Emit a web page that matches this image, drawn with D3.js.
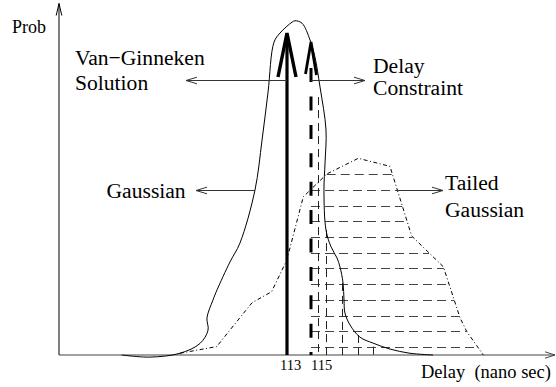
<!DOCTYPE html>
<html>
<head>
<meta charset="utf-8">
<script src="https://cdn.jsdelivr.net/npm/d3@7"></script>
<style>
  body { margin: 0; background: #fff; }
  svg { display: block; }
  text { font-family: "Liberation Serif", "Times New Roman", serif; fill: #000; }
</style>
</head>
<body>
<svg id="chart" width="556" height="387"></svg>
<script>
// Delay distribution of a buffered net: delay in ns, probability in arbitrary units.
const gaussianDelay = [99.22, 101.58, 104.08, 105.75, 106.42, 106.33, 106.83, 107.17, 108.25, 109.08,
  110.33, 110.92, 111.42, 111.92, 112.42, 113.42, 113.67, 114.25, 114.92, 115.33, 115.75, 116.25,
  116.17, 116.08, 116.25, 116.67, 117.17, 117.42, 117.67, 117.75, 117.83, 118.25, 119.08, 120.17,
  121.58, 123.25, 125.17];
const gaussianProb = [0, -0.006, 0.005, 0.033, 0.071, 0.106, 0.157, 0.186, 0.266, 0.32,
  0.471, 0.614, 0.751, 0.894, 0.92, 0.951, 0.955, 0.948, 0.9, 0.851, 0.766, 0.643,
  0.549, 0.471, 0.357, 0.309, 0.277, 0.251, 0.206, 0.157, 0.12, 0.086, 0.051, 0.034,
  0.017, 0.005, 0];

const tailedDelay = [104.08, 107.14, 108.92, 110.08, 111.72, 112.98, 114.36, 116.31, 118.94,
  121.58, 123.39, 126.03, 127.42, 127.98, 129.36];
const tailedProb = [0.005, 0.024, 0.1, 0.149, 0.181, 0.271, 0.452, 0.517, 0.562,
  0.539, 0.34, 0.252, 0.106, 0.067, 0];

// Deterministic (Van-Ginneken) delay and the delay constraint
const vanGinnekenDelay = 113;
const vanGinnekenProb = 0.92;
const constraintDelay = 115;
const constraintProb = 0.894;

const tickValues = [113, 115];
const tickLabels = ["113", "115"];

// Horizontal hatch levels under the tailed curve, right of the constraint
const hatchProb = [0.517, 0.471, 0.427, 0.383, 0.338, 0.292, 0.248, 0.203, 0.157, 0.112, 0.069, 0.024];
// Vertical strips under the Gaussian, right of the constraint
const stripDelay = [115.61, 116.25, 117.61, 118.94, 120.19];
const stripTop = [0.737, 0.357, 0.206, 0.057, 0.024];

const W = 556, H = 387;
const x = d3.scaleLinear().domain([94, 135.5]).range([59, 557]);
const y = d3.scaleLinear().domain([0, 1]).range([355, 5]);

const svg = d3.select("#chart");
svg.append("rect").attr("width", W).attr("height", H).attr("fill", "#fff");

// open "V" arrowhead at (tx,ty) pointing along angle (radians)
function openHead(g, tx, ty, ang, len, half, sw, col) {
  const ca = Math.cos(ang), sa = Math.sin(ang);
  const bx = tx - len * ca, by = ty - len * sa;
  const px = -sa * half, py = ca * half;
  g.append("path")
    .attr("d", `M${bx + px},${by + py}L${tx},${ty}L${bx - px},${by - py}`)
    .attr("fill", "none").attr("stroke", col).attr("stroke-width", sw);
}

// Axes
const axes = svg.append("g");
axes.append("line").attr("x1", x(94)).attr("x2", x(94)).attr("y1", y(0)).attr("y2", 3.5)
  .attr("stroke", "#000").attr("stroke-width", 1);
openHead(axes, x(94), 3.5, -Math.PI / 2, 12, 2.8, 1, "#000");
axes.append("line").attr("x1", x(94)).attr("x2", 555).attr("y1", y(0)).attr("y2", y(0))
  .attr("stroke", "#444").attr("stroke-width", 1.2);
openHead(axes, 555, y(0), 0, 10, 3.2, 1, "#444");

// Tailed curve intersections with a horizontal level
function crossings(level) {
  const out = [];
  for (let i = 0; i < tailedDelay.length - 1; i++) {
    const p0 = tailedProb[i], p1 = tailedProb[i + 1];
    if ((p0 - level) * (p1 - level) <= 0 && p0 !== p1) {
      const t = (level - p0) / (p1 - p0);
      out.push(tailedDelay[i] + t * (tailedDelay[i + 1] - tailedDelay[i]));
    }
  }
  return out;
}

// Horizontal hatching
const hatch = svg.append("g").attr("stroke", "#444").attr("stroke-width", 1)
  .attr("stroke-dasharray", "9,5");
hatchProb.forEach(p => {
  const c = crossings(p);
  const left = Math.max(constraintDelay, d3.min(c));
  const right = d3.max(c);
  hatch.append("line")
    .attr("x1", x(left)).attr("x2", x(right))
    .attr("y1", Math.round(y(p)) + 0.5).attr("y2", Math.round(y(p)) + 0.5);
});

// Vertical strips
const strips = svg.append("g").attr("stroke", "#222").attr("stroke-width", 1)
  .attr("stroke-dasharray", "8,5");
stripDelay.forEach((d, i) => {
  strips.append("line")
    .attr("x1", Math.round(x(d)) + 0.5).attr("x2", Math.round(x(d)) + 0.5)
    .attr("y1", y(stripTop[i])).attr("y2", y(0));
});

// Gaussian curve
const gaussLine = d3.line().x(d => x(d[0])).y(d => y(d[1])).curve(d3.curveCatmullRom.alpha(0.5));
svg.append("path")
  .datum(gaussianDelay.map((d, i) => [d, gaussianProb[i]]))
  .attr("d", gaussLine).attr("fill", "none").attr("stroke", "#000").attr("stroke-width", 1);

// Tailed Gaussian (dash-dot polyline)
const tailLine = d3.line().x(d => x(d[0])).y(d => y(d[1]));
svg.append("path")
  .datum(tailedDelay.map((d, i) => [d, tailedProb[i]]))
  .attr("d", tailLine).attr("fill", "none").attr("stroke", "#000").attr("stroke-width", 1)
  .attr("stroke-dasharray", "4,2.5,1,2.5");

// Van-Ginneken solution: thick solid arrow
const vx = x(vanGinnekenDelay);
const vTop = y(vanGinnekenProb);
svg.append("line").attr("x1", vx).attr("x2", vx).attr("y1", y(0)).attr("y2", vTop + 2)
  .attr("stroke", "#000").attr("stroke-width", 3.2);
svg.append("path")
  .attr("d", `M${vx - 9},${vTop + 44}L${vx},${vTop}L${vx + 9},${vTop + 44}`)
  .attr("fill", "none").attr("stroke", "#000").attr("stroke-width", 3.4);

// Delay constraint: thick dashed arrow
const cx = x(constraintDelay);
const cTop = y(constraintProb);
svg.append("line").attr("x1", cx).attr("x2", cx).attr("y1", cTop + 26).attr("y2", y(0))
  .attr("stroke", "#000").attr("stroke-width", 3).attr("stroke-dasharray", "14,14.4");
svg.append("path")
  .attr("d", `M${cx - 5.5},${cTop + 32}L${cx},${cTop}L${cx + 5.5},${cTop + 33}`)
  .attr("fill", "none").attr("stroke", "#000").attr("stroke-width", 2.8);

// Annotation arrows
const ann = svg.append("g");
function annArrow(x1, x2, yy) {
  ann.append("line").attr("x1", x1).attr("x2", x2).attr("y1", yy).attr("y2", yy)
    .attr("stroke", "#333").attr("stroke-width", 1);
  openHead(ann, x2, yy, x2 > x1 ? 0 : Math.PI, 11, 3.3, 1, "#333");
}
annArrow(vx, 186, 80.5);
annArrow(cx, 365, 80.5);
annArrow(255, 196, 190.5);
annArrow(396, 443, 190.5);

// Labels
const lab = svg.append("g");
function txt(s, tx, ty, size, anchor) {
  lab.append("text").attr("x", tx).attr("y", ty).attr("font-size", size)
    .attr("text-anchor", anchor || "start").text(s);
}
txt("Prob", 12, 33, 18);
txt("Van\u2212Ginneken", 75, 65, 21.6);
txt("Solution", 75, 90, 21.6);
txt("Delay", 373, 73, 21.6);
txt("Constraint", 373, 95, 21.6);
txt("Gaussian", 106.5, 198, 21.6);
txt("Tailed", 445, 190, 21.6);
txt("Gaussian", 445, 217, 21.6);
txt(tickLabels[0], x(tickValues[0]) - 7, 370, 14.5);
txt(tickLabels[1], x(tickValues[1]), 370, 14.5);
txt("Delay\u00a0\u00a0(nano sec)", 421, 378, 18.5);
</script>
</body>
</html>
